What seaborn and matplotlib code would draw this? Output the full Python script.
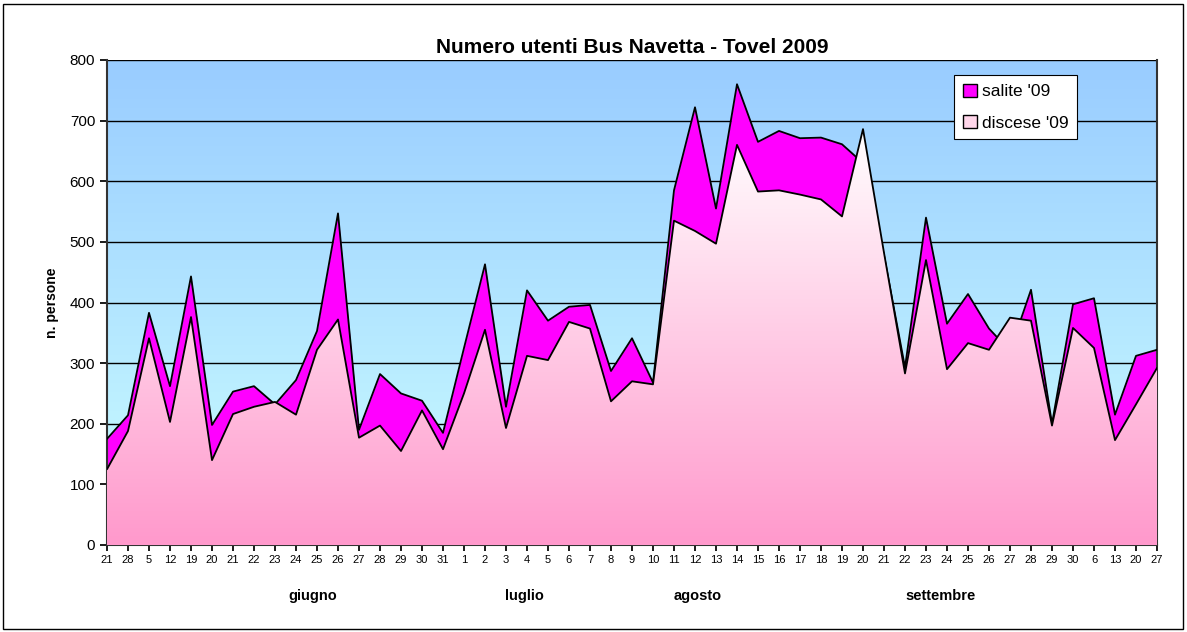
import numpy as np
import pandas as pd
import matplotlib
matplotlib.use("Agg")
import matplotlib.pyplot as plt
import seaborn as sns
from matplotlib.colors import LinearSegmentedColormap
from matplotlib.patches import Patch, Rectangle

# giorni (etichette asse x)
giorni = ['21', '28', '5', '12', '19', '20', '21', '22', '23', '24', '25', '26', '27',
          '28', '29', '30', '31', '1', '2', '3', '4', '5', '6', '7', '8', '9', '10',
          '11', '12', '13', '14', '15', '16', '17', '18', '19', '20', '21', '22', '23',
          '24', '25', '26', '27', '28', '29', '30', '6', '13', '20', '27']
salite = [175, 214, 383, 262, 443, 198, 253, 262, 232, 272, 353, 547, 190, 282, 250,
          238, 185, 325, 463, 228, 420, 370, 393, 396, 287, 341, 268, 585, 722, 555,
          760, 665, 683, 671, 672, 661, 630, 478, 293, 540, 365, 414, 357, 320, 421,
          200, 397, 407, 215, 312, 322]
discese = [125, 188, 341, 203, 376, 140, 216, 228, 236, 215, 322, 372, 177, 197, 155,
           222, 158, 250, 355, 193, 312, 305, 368, 357, 237, 270, 265, 535, 518, 497,
           660, 583, 585, 578, 570, 542, 686, 482, 283, 470, 290, 333, 322, 375, 370,
           197, 358, 325, 173, 232, 292]
mesi = ['giugno', 'luglio', 'agosto', 'settembre']
mesi_pos = [9.8, 19.86, 28.14, 39.67]

df = pd.DataFrame({'x': np.arange(len(giorni)), 'salite': salite, 'discese': discese})

sns.set_theme(style="white")
plt.rcParams['font.family'] = ['Liberation Sans', 'DejaVu Sans']
for k in ['text.color', 'axes.labelcolor', 'xtick.color', 'ytick.color']:
    plt.rcParams[k] = 'black'

fig = plt.figure(figsize=(11.87, 6.32), dpi=100)
ax = fig.add_axes([107 / 1187, 87 / 632, 1050 / 1187, 485 / 632])
n = len(giorni) - 1

# sfondo sfumato dell'area del grafico
bg = LinearSegmentedColormap.from_list('bg', ['#CCFFFF', '#99CCFF'])
grad = np.linspace(0, 1, 256).reshape(-1, 1)
ax.imshow(grad, cmap=bg, origin='lower', aspect='auto', extent=[0, n, 0, 800], zorder=0)

for v in range(100, 801, 100):
    ax.axhline(v, color='black', lw=1, zorder=1)

# salite (dietro)
ax.fill_between(df['x'], 0, df['salite'], color='#FF00FF', zorder=2, lw=0)
sns.lineplot(data=df, x='x', y='salite', color='black', lw=1.3, ax=ax, zorder=3)

# discese (davanti, sfumato)
coll = ax.fill_between(df['x'], 0, df['discese'], color='none', lw=0, zorder=4)
pink = LinearSegmentedColormap.from_list('pk', ['#FF99CC', '#FFFFFF'])
im = ax.imshow(grad, cmap=pink, origin='lower', aspect='auto', extent=[0, n, 0, 690], zorder=4)
im.set_clip_path(coll.get_paths()[0], transform=ax.transData)
sns.lineplot(data=df, x='x', y='discese', color='black', lw=1.3, ax=ax, zorder=5)

ax.set_xlim(0, n)
ax.set_ylim(0, 800)
ax.set_xticks(df['x'])
ax.set_xticklabels(giorni, fontsize=8)
ax.set_yticks(range(0, 801, 100))
ax.tick_params(axis='y', labelsize=11, length=5, direction='out', left=True)
ax.tick_params(axis='x', length=4, direction='out', bottom=True, pad=3)
ax.set_xlabel('')
ax.set_ylabel('n. persone', fontsize=10, fontweight='bold', labelpad=8)
ax.spines['top'].set_visible(False)
for s in ['left', 'bottom', 'right']:
    ax.spines[s].set_color('#333333')
    ax.spines[s].set_linewidth(1.5)

for m, p in zip(mesi, mesi_pos):
    ax.text(p, -0.105, m, transform=ax.get_xaxis_transform(), ha='center', va='center',
            fontsize=10.5, fontweight='bold')

ax.set_title('Numero utenti Bus Navetta - Tovel 2009', fontsize=15, fontweight='bold', pad=5)

handles = [Patch(facecolor='#FF00FF', edgecolor='black', label="salite '09"),
           Patch(facecolor='#FFD6EA', edgecolor='black', label="discese '09")]
leg = ax.legend(handles=handles, loc='upper right', bbox_to_anchor=(0.924, 0.969),
                borderaxespad=0, fontsize=12.5, frameon=True, fancybox=False, framealpha=1,
                handlelength=0.8, handleheight=0.8, handletextpad=0.3,
                labelspacing=0.9, borderpad=0.5)
leg.get_frame().set_edgecolor('black')
leg.get_frame().set_linewidth(0.8)
leg.set_zorder(10)

fig.patches.append(Rectangle((3 / 1187, 3 / 632), 1180 / 1187, 625 / 632, transform=fig.transFigure,
                             fill=False, edgecolor='black', lw=1))

fig.savefig('out.png', dpi=100)
